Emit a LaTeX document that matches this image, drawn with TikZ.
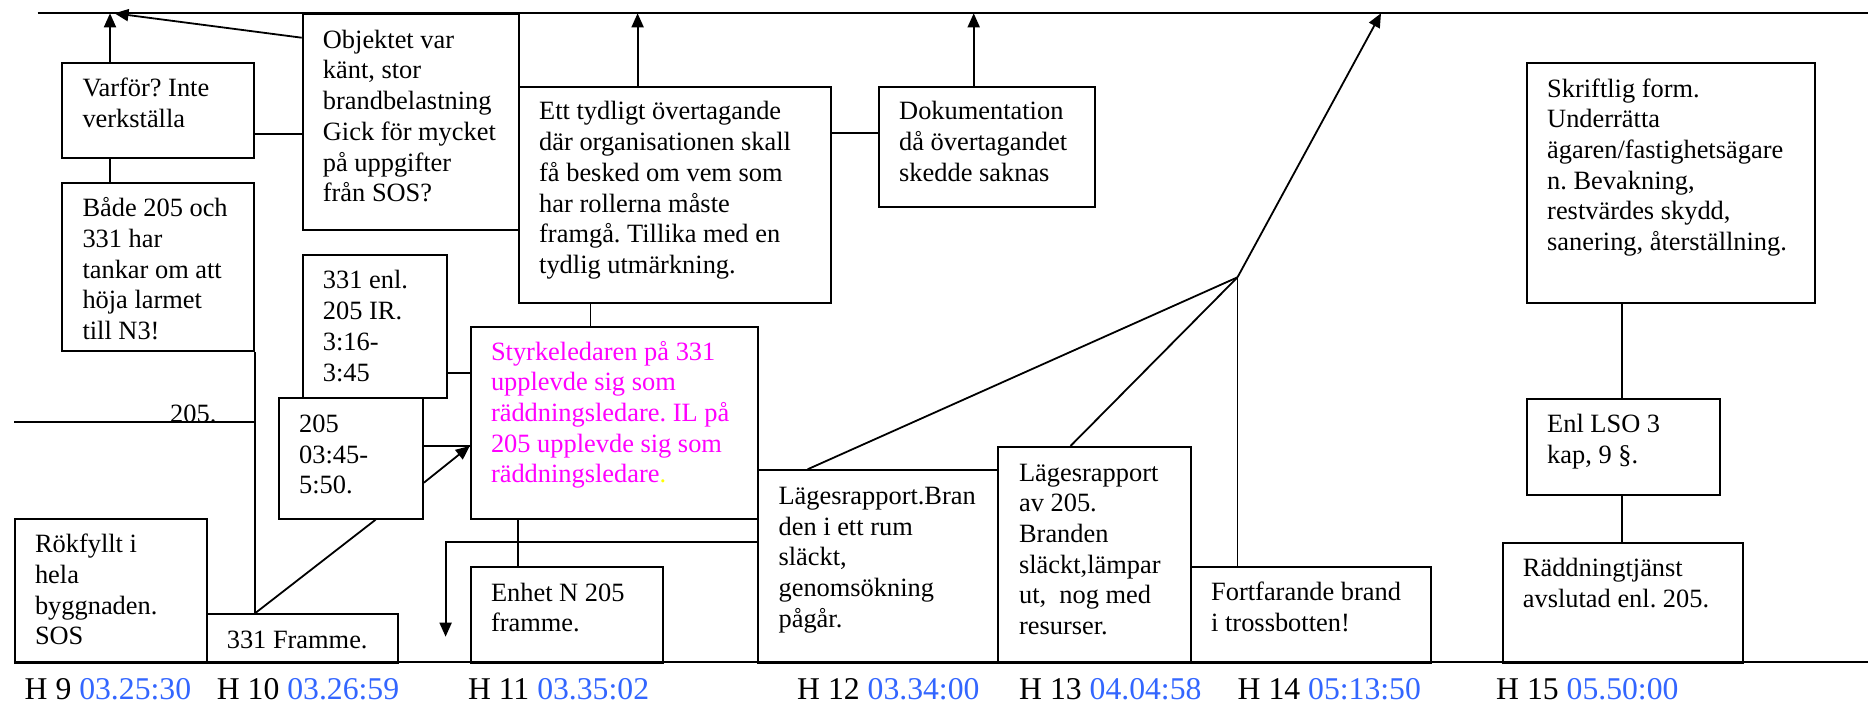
\documentclass[tikz,border=0pt]{standalone}
\usepackage{fontspec}
\setmainfont{Liberation Serif}
\usetikzlibrary{arrows.meta}
\definecolor{tblue}{RGB}{51,102,255}
\definecolor{tmag}{RGB}{255,0,255}
\definecolor{tyel}{RGB}{255,255,0}
\frenchspacing
\newcommand\boxfont{\fontsize{26.4}{30.7}\selectfont}
\newcommand\labfont{\fontsize{31.7}{36}\selectfont}
\newcommand\ttab[1]{\begin{tabular}[t]{@{}l@{}}#1\end{tabular}}
\begin{document}
\begin{tikzpicture}[x=1pt,y=-1pt,
  bx/.style={draw, line width=2pt, inner sep=0pt, anchor=north west, rectangle},
  txt/.style={anchor=base west, inner sep=0pt, font=\boxfont},
  ln/.style={line width=1.8pt},
  arr/.style={line width=1.8pt, -{Triangle[length=14pt,width=12pt]}},
  lab/.style={anchor=base west, inner sep=0pt, font=\labfont}]
\useasboundingbox (0,0) rectangle (1868,703);

% time axis lines
\coordinate (TL) at (37.6,13.3);
\coordinate (TR) at (1868,13.3);
\coordinate (BL) at (13.8,661.7);
\coordinate (BR) at (1868,661.7);
\draw[line width=2pt] (TL) -- (TR);
\draw[line width=2pt] (BL) -- (BR);

% boxes
\node[bx, minimum width=191.7pt, minimum height=95.6pt]  (var)   at (61.3,61.7) {};
\node[bx, minimum width=191.7pt, minimum height=168.3pt] (bade)  at (61.3,181.7) {};
\node[bx, minimum width=216.3pt, minimum height=216pt]   (obj)   at (301.7,13.3) {};
\node[bx, minimum width=312pt,   minimum height=215.7pt] (ett)   at (518,86) {};
\node[bx, minimum width=216.3pt, minimum height=119.7pt] (dok)   at (878,86) {};
\node[bx, minimum width=143.9pt, minimum height=143.3pt] (enl)   at (301.7,254) {};
\node[bx, minimum width=143.9pt, minimum height=120.4pt] (b205)  at (278,397.3) {};
\node[bx, minimum width=287.6pt, minimum height=191.7pt] (mag)   at (469.8,326) {};
\node[bx, minimum width=192.2pt, minimum height=95.7pt]  (enhet) at (469.8,566) {};
\node[bx, minimum width=191.8pt, minimum height=144pt]   (rok)   at (13.8,517.7) {};
\node[bx, minimum width=191.8pt, minimum height=48.4pt]  (f331)  at (205.6,613.3) {};
\node[bx, minimum width=240pt,   minimum height=192.4pt] (lag1)  at (757.4,469.3) {};
\node[bx, minimum width=192.6pt, minimum height=215.7pt] (lag2)  at (997.4,446) {};
\node[bx, minimum width=240pt,   minimum height=95.7pt]  (fort)  at (1190,566) {};
\node[bx, minimum width=240.7pt, minimum height=120pt]   (radd)  at (1501.7,541.7) {};
\node[bx, minimum width=192.5pt, minimum height=96.3pt]  (lso)   at (1526,397.7) {};
\node[bx, minimum width=288.4pt, minimum height=240pt]   (skr)   at (1526,61.7) {};

% texts
\node[txt] (tvar) at ([shift={(21,35)}]var.north west) {\ttab{Varför? Inte\\verkställa}};
\node[txt] (tbade) at ([shift={(21,35)}]bade.north west) {\ttab{Både 205 och\\331 har\\tankar om att\\höja larmet\\till N3!}};
\node[txt] (tobj) at ([shift={(21,35)}]obj.north west) {\ttab{Objektet var\\känt, stor\\brandbelastning\\Gick för mycket\\på uppgifter\\från SOS?}};
\node[txt] (tett) at ([shift={(21,34)}]ett.north west) {\ttab{Ett tydligt övertagande\\där organisationen skall\\få besked om vem som\\har rollerna måste\\framgå. Tillika med en\\tydlig utmärkning.}};
\node[txt] (tdok) at ([shift={(21,34)}]dok.north west) {\ttab{Dokumentation\\då övertagandet\\skedde saknas}};
\node[txt] (tenl) at ([shift={(21,35)}]enl.north west) {\ttab{331 enl.\\205 IR.\\3:16-\\3:45}};
\node[txt] (tb205) at ([shift={(21,35)}]b205.north west) {\ttab{205\\03:45-\\5:50.}};
\node[txt, text=tmag] (tmag) at ([shift={(21,34)}]mag.north west) {\ttab{Styrkeledaren på 331\\upplevde sig som\\räddningsledare. IL på\\205 upplevde sig som\\räddningsledare\textcolor{tyel}{.}}};
\node[txt] (tenhet) at ([shift={(21,35)}]enhet.north west) {\ttab{Enhet N 205\\framme.}};
\node[txt] (trok) at ([shift={(21,35)}]rok.north west) {\ttab{Rökfyllt i\\hela\\byggnaden.\\SOS}};
\node[txt] (tf331) at ([shift={(21,35.5)}]f331.north west) {331 Framme.};
\node[txt] (tlag1) at ([shift={(21,35)}]lag1.north west) {\ttab{Lägesrapport.Bran\\den i ett rum\\släckt,\\genomsökning\\pågår.}};
\node[txt] (tlag2) at ([shift={(21.5,35)}]lag2.north west) {\ttab{Lägesrapport\\av 205.\\Branden\\släckt,lämpar\\ut,\ \ nog med\\resurser.}};
\node[txt] (tfort) at ([shift={(21,34.5)}]fort.north west) {\ttab{Fortfarande brand\\i trossbotten!}};
\node[txt] (tradd) at ([shift={(21,35)}]radd.north west) {\ttab{Räddningtjänst\\avslutad enl. 205.}};
\node[txt] (tlso) at ([shift={(21,35)}]lso.north west) {\ttab{Enl LSO 3\\kap, 9 §.}};
\node[txt] (tskr) at ([shift={(21,35.5)}]skr.north west) {\ttab{Skriftlig form.\\Underrätta\\ägaren/fastighetsägare\\n. Bevakning,\\restvärdes skydd,\\sanering, återställning.}};

% connectors, left part
\coordinate (a1) at (110,13.3);
\coordinate (a1b) at (114.5,13.3);
\coordinate (o1) at (0,37.7);
\draw[arr] (var.north -| a1) -- (a1);
\draw[arr] (obj.west |- o1) -- (a1b);
\draw[ln] (var.south -| a1) -- (bade.north -| a1);
\coordinate (h1) at (0,134);
\draw[ln] (var.east |- h1) -- (obj.west |- h1);
\draw[ln] (bade.south east) -- (f331.north -| bade.east);
\coordinate (l205) at (14,422);
\draw[ln] (l205) -- (l205 -| bade.east);
\node[txt] (t205) at (170,422) {205.};
\coordinate (q) at (375.6,0);
\draw[ln] (f331.north -| bade.east) -- (b205.south -| q);

% connectors, middle part
\coordinate (a2) at (637.6,13.3);
\draw[arr] (ett.north -| a2) -- (a2);
\coordinate (h2) at (0,133.3);
\draw[ln] (ett.east |- h2) -- (dok.west |- h2);
\coordinate (a3) at (973.7,13.3);
\draw[arr] (dok.north -| a3) -- (a3);
\coordinate (v1) at (590.4,0);
\draw[ln] (ett.south -| v1) -- (mag.north -| v1);
\coordinate (h3) at (0,373.3);
\draw[ln] (enl.east |- h3) -- (mag.west |- h3);
\coordinate (h4) at (0,446);
\draw[ln] (b205.east |- h4) -- (mag.west |- h4);
\coordinate (h5) at (0,482.7);
\draw[arr] (b205.east |- h5) -- (mag.west |- h4);
\coordinate (v2) at (518,0);
\draw[ln] (mag.south -| v2) -- (enhet.north -| v2);
\coordinate (h6) at (0,541.7);
\coordinate (e1) at (445.6,636.7);
\draw[arr] (lag1.west |- h6) -| (e1);

% connectors, right part
\coordinate (J) at (1237.5,277.3);
\coordinate (v4) at (807.6,0);
\coordinate (v5) at (1070.5,0);
\draw[ln] (lag1.north -| v4) -- (J);
\draw[ln] (lag2.north -| v5) -- (J);
\draw[ln] (J) -- (fort.north -| J);
\coordinate (a4) at (1381,13.3);
\draw[arr] (J) -- (a4);
\coordinate (v6) at (1621.8,0);
\draw[ln] (skr.south -| v6) -- (lso.north -| v6);
\draw[ln] (lso.south -| v6) -- (radd.north -| v6);

% time labels
\node[lab] (h9)  at (24.5,699)   {H 9 \textcolor{tblue}{03.25:30}};
\node[lab] (h10) at (216.7,699)  {H 10 \textcolor{tblue}{03.26:59}};
\node[lab] (h11) at (467.8,699)  {H 11 \textcolor{tblue}{03.35:02}};
\node[lab] (h12) at (797,699)    {H 12 \textcolor{tblue}{03.34:00}};
\node[lab] (h13) at (1019,699)   {H 13 \textcolor{tblue}{04.04:58}};
\node[lab] (h14) at (1237.5,699) {H 14 \textcolor{tblue}{05:13:50}};
\node[lab] (h15) at (1496,699)   {H 15 \textcolor{tblue}{05.50:00}};
\end{tikzpicture}
\end{document}
